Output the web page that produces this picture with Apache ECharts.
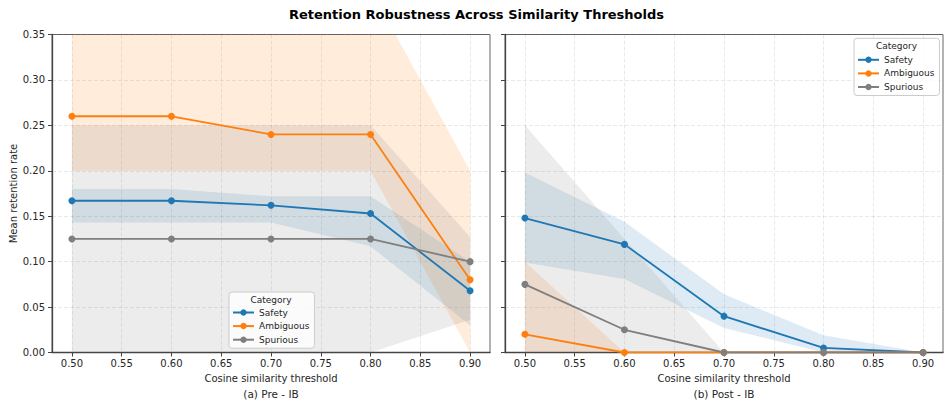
<!DOCTYPE html>
<html><head><meta charset="utf-8">
<script src="https://cdn.jsdelivr.net/npm/echarts@6/dist/echarts.min.js"></script>
<style>html,body{margin:0;padding:0;background:#fff}#c{width:945px;height:402px}</style>
</head><body><div id="c"></div>
<script>
// ---- data ----
const thresholds = [0.50, 0.60, 0.70, 0.80, 0.90];
const xTicks = [0.50, 0.55, 0.60, 0.65, 0.70, 0.75, 0.80, 0.85, 0.90];
const yTicks = [0.00, 0.05, 0.10, 0.15, 0.20, 0.25, 0.30, 0.35];
const categories = ['Safety', 'Ambiguous', 'Spurious'];
// (a) Pre - IB
const preSafety      = [0.167, 0.167, 0.162, 0.153, 0.068];
const preSafetyLo    = [0.143, 0.143, 0.143, 0.117, 0.030];
const preSafetyHi    = [0.180, 0.180, 0.172, 0.172, 0.100];
const preAmbiguous   = [0.260, 0.260, 0.240, 0.240, 0.080];
const preAmbiguousLo = [0.200, 0.200, 0.200, 0.200, 0.000];
const preAmbiguousHi = [0.400, 0.400, 0.400, 0.400, 0.200];
const preSpurious    = [0.125, 0.125, 0.125, 0.125, 0.100];
const preSpuriousLo  = [0.000, 0.000, 0.000, 0.000, 0.036];
const preSpuriousHi  = [0.250, 0.250, 0.250, 0.250, 0.127];
// (b) Post - IB
const postSafety      = [0.148, 0.119, 0.040, 0.005, 0.000];
const postSafetyLo    = [0.099, 0.081, 0.027, 0.000, 0.000];
const postSafetyHi    = [0.198, 0.144, 0.064, 0.019, 0.000];
const postAmbiguous   = [0.020, 0.000, 0.000, 0.000, 0.000];
const postAmbiguousLo = [0.000, 0.000, 0.000, 0.000, 0.000];
const postAmbiguousHi = [0.100, 0.000, 0.000, 0.000, 0.000];
const postSpurious    = [0.075, 0.025, 0.000, 0.000, 0.000];
const postSpuriousLo  = [0.000, 0.000, 0.000, 0.000, 0.000];
const postSpuriousHi  = [0.250, 0.125, 0.000, 0.000, 0.000];

// ---- styles ----
const FONT = 'DejaVu Sans';
const colors = { Safety: '#1f77b4', Ambiguous: '#ff7f0e', Spurious: '#7f7f7f' };
const bandColors = { Safety: 'rgba(31,119,180,0.15)', Ambiguous: 'rgba(255,127,14,0.15)', Spurious: 'rgba(127,127,127,0.15)' };

function band(g, name, lo, hi) {
  return {
    type: 'custom', name: name + ' band', xAxisIndex: g, yAxisIndex: g, clip: true, silent: true, z: 1,
    animation: false, data: [[0.7, 0.1]],
    renderItem: function (params, api) {
      const pts = [];
      for (let i = 0; i < thresholds.length; i++) pts.push(api.coord([thresholds[i], hi[i]]));
      for (let i = thresholds.length - 1; i >= 0; i--) pts.push(api.coord([thresholds[i], lo[i]]));
      return { type: 'polygon', shape: { points: pts }, style: { fill: bandColors[name], stroke: null } };
    }
  };
}
function line(g, name, vals) {
  return {
    type: 'line', name: name, xAxisIndex: g, yAxisIndex: g, z: 3, animation: false, clip: true,
    data: thresholds.map((x, i) => [x, vals[i]]),
    symbol: 'circle', symbolSize: 7, showSymbol: true,
    lineStyle: { color: colors[name], width: 1.8 }, itemStyle: { color: colors[name] }
  };
}
function xAx(g) {
  return {
    type: 'value', gridIndex: g, min: 0.48, max: 0.92,
    axisLine: { show: true, lineStyle: { color: '#444', width: 1.3 } },
    axisTick: { show: true, length: 4, customValues: xTicks, lineStyle: { color: '#444' } },
    axisLabel: { customValues: xTicks, formatter: v => v.toFixed(2), fontSize: 10, color: '#262626', margin: 6, fontFamily: FONT },
    splitLine: { show: true, lineStyle: { color: 'rgba(0,0,0,0.11)', type: [4, 2], width: 0.8 } }
  };
}
function yAx(g, labels) {
  return {
    type: 'value', gridIndex: g, min: 0, max: 0.35, interval: 0.05,
    axisLine: { show: true, lineStyle: { color: '#444', width: 1.3 } },
    axisTick: { show: true, length: 4, lineStyle: { color: '#444' } },
    axisLabel: { show: labels, formatter: v => v.toFixed(2), fontSize: 10, color: '#262626', margin: 7, fontFamily: FONT },
    splitLine: { show: true, lineStyle: { color: 'rgba(0,0,0,0.11)', type: [4, 2], width: 0.8 } }
  };
}
function legend(left, top, padTop) {
  return {
    show: true, orient: 'vertical', left: left, top: top, data: categories, selectedMode: false,
    itemWidth: 21, itemHeight: 8, itemGap: 4.6, padding: [padTop, 5, 4, 3],
    borderColor: '#cccccc', borderWidth: 1, borderRadius: 3, backgroundColor: 'rgba(255,255,255,0.8)',
    textStyle: { fontSize: 9, fontFamily: FONT, color: '#262626' }
  };
}
function txt(x, y, s, size, extra) {
  return Object.assign({ type: 'text', x: x, y: y, silent: true, z: 100, zlevel: 0,
    style: Object.assign({ text: s, fontSize: size, fontFamily: FONT, fill: '#262626', textAlign: 'center', textVerticalAlign: 'middle' }, {}) }, extra || {});
}

const chart = echarts.init(document.getElementById('c'), null, { renderer: 'svg' });
chart.setOption({
  animation: false,
  backgroundColor: '#fff',
  title: { text: 'Retention Robustness Across Similarity Thresholds', left: 284, top: 3,
    textStyle: { fontSize: 13, fontWeight: 'bold', fontFamily: FONT, color: '#000' } },
  grid: [
    { left: 52, top: 34.5, width: 438, height: 318, show: true, borderColor: '#666', borderWidth: 1, backgroundColor: 'transparent' },
    { left: 505, top: 34.5, width: 438, height: 318, show: true, borderColor: '#666', borderWidth: 1, backgroundColor: 'transparent' }
  ],
  xAxis: [xAx(0), xAx(1)],
  yAxis: [yAx(0, true), yAx(1, false)],
  legend: [legend(229, 292, 16), legend(854, 38.3, 17)],
  series: [
    band(0, 'Safety', preSafetyLo, preSafetyHi),
    band(0, 'Ambiguous', preAmbiguousLo, preAmbiguousHi),
    band(0, 'Spurious', preSpuriousLo, preSpuriousHi),
    line(0, 'Safety', preSafety),
    line(0, 'Ambiguous', preAmbiguous),
    line(0, 'Spurious', preSpurious),
    band(1, 'Safety', postSafetyLo, postSafetyHi),
    band(1, 'Ambiguous', postAmbiguousLo, postAmbiguousHi),
    band(1, 'Spurious', postSpuriousLo, postSpuriousHi),
    line(1, 'Safety', postSafety),
    line(1, 'Ambiguous', postAmbiguous),
    line(1, 'Spurious', postSpurious)
  ],
  graphic: [
    txt(13, 193.5, 'Mean retention rate', 10, { rotation: Math.PI / 2 }),
    txt(271, 378.3, 'Cosine similarity threshold', 10),
    txt(724, 378.3, 'Cosine similarity threshold', 10),
    txt(271, 394, '(a) Pre - IB', 10.5),
    txt(724, 394, '(b) Post - IB', 10.5),
    txt(271, 299.5, 'Category', 9),
    txt(896.5, 46, 'Category', 9)
  ]
});
</script></body></html>
